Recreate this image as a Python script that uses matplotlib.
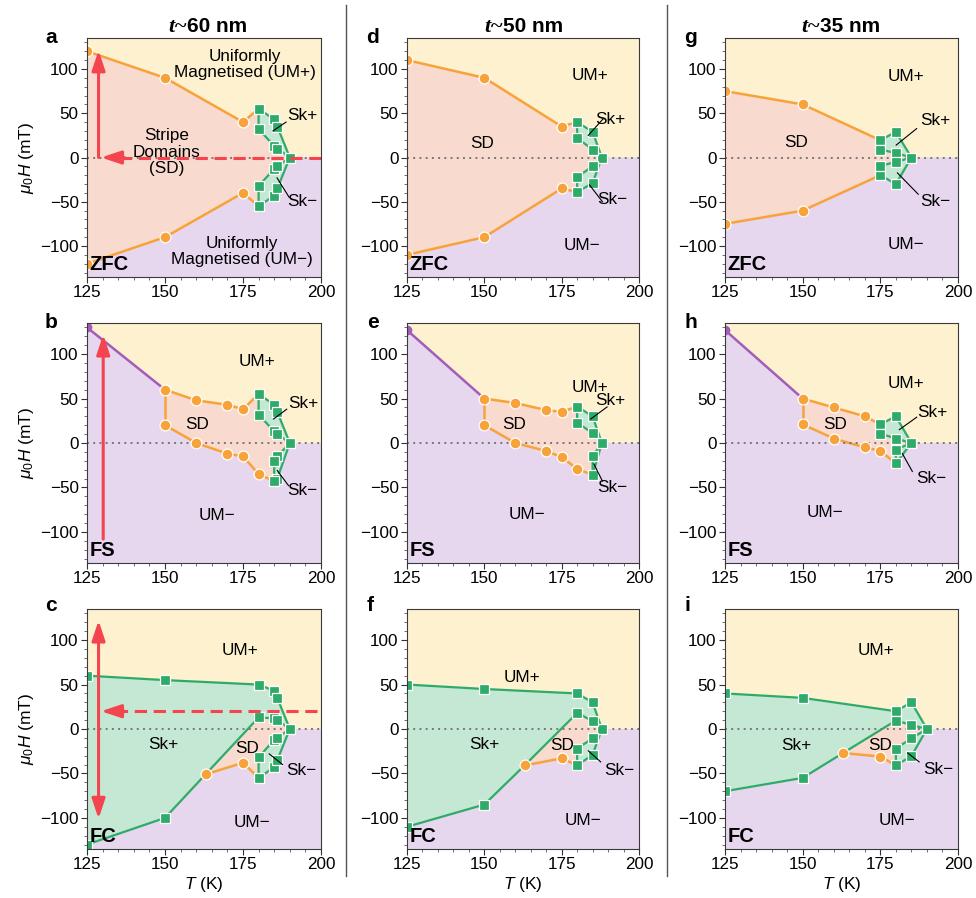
import matplotlib
matplotlib.use('Agg')
import matplotlib.pyplot as plt
from matplotlib.lines import Line2D
from matplotlib.ticker import MultipleLocator

plt.rcParams['font.family'] = ['Liberation Sans', 'DejaVu Sans']
plt.rcParams['mathtext.fontset'] = 'custom'
plt.rcParams['mathtext.rm'] = 'Liberation Sans'
plt.rcParams['mathtext.it'] = 'Liberation Sans:italic'
plt.rcParams['mathtext.bf'] = 'Liberation Sans:bold'

YEL = '#FDF1CF'; PUR = '#E6D7EF'; SAL = '#F9DACE'; GRNF = '#C4E8D3'
GRN = '#2EAB69'; ORG = '#F8A23A'; PURL = '#A25DBB'; RED = '#F4454F'

# ---------------- data: t~60 nm ----------------
a_orange_up = [(125, 120), (150, 90), (175, 40), (180, 55)]
a_orange_lo = [(125, -120), (150, -90), (175, -40), (180, -55)]
a_skp_outer = [(180, 55), (185, 43), (186, 35), (190, 0)]
a_skp_inner = [(180, 55), (180, 32), (185, 13), (186, 10), (190, 0)]
a_skm_outer = [(180, -55), (185, -43), (186, -35), (190, 0)]
a_skm_inner = [(180, -55), (180, -32), (185, -13), (186, -10), (190, 0)]
a_circles = [(125, 120), (150, 90), (175, 40), (125, -120), (150, -90), (175, -40)]

b_purple = [(125, 130), (150, 60)]
b_orange_up = [(150, 60), (160, 48), (170, 43), (175, 38), (180, 55)]
b_orange_v = [(150, 60), (150, 20)]
b_orange_lo = [(150, 20), (160, 0), (170, -12), (175, -15), (180, -35), (185, -43)]
b_skp_outer = [(180, 55), (185, 43), (186, 35), (190, 0)]
b_skp_inner = [(180, 55), (180, 32), (185, 13), (186, 10), (190, 0)]
b_skm_outer = [(190, 0), (186, -40), (185, -43)]
b_skm_inner = [(190, 0), (186, -15), (185, -20), (185, -43)]
b_circles = [(150, 60), (160, 48), (170, 43), (175, 38), (150, 20), (160, 0),
             (170, -12), (175, -15), (180, -35)]

c_skp_upper = [(125, 60), (150, 55), (180, 50), (185, 43), (186, 35), (190, 0)]
c_skp_lower = [(125, -130), (150, -100), (163, -51), (180, 13), (185, 12), (186, 10), (190, 0)]
c_orange = [(163, -51), (175, -38), (180, -55)]
c_skm_outer = [(180, -55), (185, -43), (186, -35), (190, 0)]
c_skm_inner = [(180, -55), (180, -32), (185, -12), (186, -10), (190, 0)]
c_circles = [(163, -51), (175, -38)]

# ---------------- data: t~50 nm ----------------
d_orange_up = [(125, 110), (150, 90), (175, 35), (180, 40)]
d_orange_lo = [(125, -110), (150, -90), (175, -35), (180, -39)]
d_skp_outer = [(180, 40), (185, 29), (188, 0)]
d_skp_inner = [(180, 40), (180, 22), (185, 9), (188, 0)]
d_skm_outer = [(180, -39), (185, -29), (188, 0)]
d_skm_inner = [(180, -39), (180, -22), (185, -10), (188, 0)]
d_circles = [(125, 110), (150, 90), (175, 35), (125, -110), (150, -90), (175, -35)]

e_purple = [(125, 127), (150, 50)]
e_orange_up = [(150, 50), (160, 45), (170, 37), (175, 35), (180, 41)]
e_orange_v = [(150, 50), (150, 20)]
e_orange_lo = [(150, 20), (160, 0), (170, -9), (175, -16), (180, -29), (185, -36)]
e_skp_outer = [(180, 41), (185, 30), (188, 0)]
e_skp_inner = [(180, 41), (180, 23), (185, 11), (188, 0)]
e_skm_outer = [(188, 0), (185, -36)]
e_skm_inner = [(188, 0), (185, -15), (185, -36)]
e_circles = [(150, 50), (160, 45), (170, 37), (175, 35), (150, 20), (160, 0),
             (170, -9), (175, -16), (180, -29)]

f_skp_upper = [(125, 50), (150, 45), (180, 40), (185, 30), (188, 0)]
f_skp_lower = [(125, -110), (150, -85), (163, -41), (180, 18), (185, 9), (188, 0)]
f_orange = [(163, -41), (175, -33), (180, -41)]
f_skm_outer = [(180, -41), (185, -29), (188, 0)]
f_skm_inner = [(180, -41), (180, -22), (185, -10.5), (188, 0)]
f_circles = [(163, -41), (175, -33)]

# ---------------- data: t~35 nm ----------------
g_orange_up = [(125, 75), (150, 60), (175, 19.5)]
g_orange_lo = [(125, -75), (150, -60), (175, -20)]
g_skp_outer = [(175, 19.5), (180, 29), (185, 0)]
g_skp_inner = [(175, 19.5), (175, 9), (180, 5), (185, 0)]
g_skm_outer = [(175, -20), (180, -30), (185, 0)]
g_skm_inner = [(175, -20), (175, -9.5), (180, -5), (185, 0)]
g_circles = [(125, 75), (150, 60), (125, -75), (150, -60)]

h_purple = [(125, 127), (150, 50)]
h_orange_up = [(150, 50), (160, 40), (170, 30), (175, 21)]
h_orange_v = [(150, 50), (150, 21)]
h_orange_lo = [(150, 21), (160, 5), (170, -5), (175, -9), (180, -23)]
h_skp_outer = [(175, 21), (180, 30), (185, 0)]
h_skp_inner = [(175, 21), (175, 10.5), (180, 5), (185, 0)]
h_skm_outer = [(185, 0), (180, -23)]
h_skm_inner = [(185, 0), (180, -7.5), (180, -23)]
h_circles = [(150, 50), (160, 40), (170, 30), (150, 21), (160, 5), (170, -5), (175, -9)]

i_skp_upper = [(125, 40), (150, 35), (180, 20), (185, 30), (190, 0)]
i_skp_lower = [(125, -70), (150, -55), (163, -27), (180, 9.5), (185, 4.5), (190, 0)]
i_orange = [(163, -27), (175, -31), (180, -41)]
i_skm_outer = [(180, -41), (185, -30.5), (190, 0)]
i_skm_inner = [(180, -41), (180, -22), (185, -10.5), (190, 0)]
i_circles = [(163, -27), (175, -31)]

# ---------------- texts ----------------
a_texts = [(175.5, 105, 'Uniformly\nMagnetised (UM+)'), (150.6, 6, 'Stripe\nDomains\n(SD)'),
           (174.6, -106, 'Uniformly\nMagnetised (UM\u2212)'), (194, 48, 'Sk+'), (194, -49.5, 'Sk\u2212')]
b_texts = [(179.4, 92, 'UM+'), (160.2, 21, 'SD'), (166.7, -82, 'UM\u2212'), (194.3, 45, 'Sk+'), (194, -53, 'Sk\u2212')]
c_texts = [(174, 88, 'UM+'), (149.4, -17, 'Sk+'), (176.2, -22, 'SD'), (177.8, -105, 'UM\u2212'), (193.8, -47, 'Sk\u2212')]
d_texts = [(184.2, 93, 'UM+'), (149.2, 16, 'SD'), (181.6, -99, 'UM\u2212'), (190.6, 43, 'Sk+'), (191.3, -48, 'Sk\u2212')]
e_texts = [(184.2, 63, 'UM+'), (159.6, 21, 'SD'), (163.8, -80, 'UM\u2212'), (190.6, 48, 'Sk+'), (191.3, -50, 'Sk\u2212')]
f_texts = [(162.2, 58, 'UM+'), (149.9, -17, 'Sk+'), (175, -19, 'SD'), (182, -103, 'UM\u2212'), (193.6, -47, 'Sk\u2212')]
g_texts = [(183.3, 91, 'UM+'), (147.9, 17, 'SD'), (183.3, -98, 'UM\u2212'), (192.6, 42, 'Sk+'), (192.6, -49.6, 'Sk\u2212')]
h_texts = [(183.3, 67, 'UM+'), (160.4, 21, 'SD'), (157.2, -78, 'UM\u2212'), (191.8, 34, 'Sk+'), (191.5, -40, 'Sk\u2212')]
i_texts = [(173.6, 88, 'UM+'), (147.9, -18, 'Sk+'), (174.9, -18, 'SD'), (180.4, -103, 'UM\u2212'), (193.7, -46, 'Sk\u2212')]

a_pointers = [[(188.8, 40), (184.6, 30)], [(189.8, -45), (185.9, -23)]]
b_pointers = [[(189.0, 38), (184.8, 27)], [(189.6, -48), (186.0, -31)]]
c_pointers = [[(187.7, -40), (183.4, -28)]]
d_pointers = [[(188.5, 44), (183.6, 25)], [(188.2, -50), (184.0, -31)]]
e_pointers = [[(189.7, 40.6), (184.4, 27)], [(188.2, -43), (185.4, -23.4)]]
f_pointers = [[(187.6, -37), (183.6, -24.5)]]
g_pointers = [[(186.7, 32.7), (180.1, 14)], [(187.2, -41.5), (180.5, -17.4)]]
h_pointers = [[(186.7, 29), (181.1, 15)], [(185.3, -32), (182.1, -12)]]
i_pointers = [[(187.5, -37), (183.8, -27)]]

protocols = ['ZFC', 'FS', 'FC']
letters = ['a', 'b', 'c', 'd', 'e', 'f', 'g', 'h', 'i']
thickness = ['60', '50', '35']

# ---------------- figure ----------------
fig = plt.figure(figsize=(9.76, 8.98), dpi=100)
W, H = 976.0, 898.0
col_px = [(87, 234), (407, 232), (725, 233)]
row_px = [(38, 239), (323, 240), (609, 240)]

TICK_FS = 12.3
TEXT_FS = 12.3


def pts_xy(pts):
    return [p[0] for p in pts], [p[1] for p in pts]


def fill(ax, pts, color, z):
    xs, ys = pts_xy(pts)
    ax.fill(xs, ys, color=color, lw=0, zorder=z)


def line(ax, pts, color, lw=1.8, z=4):
    xs, ys = pts_xy(pts)
    ax.plot(xs, ys, color=color, lw=lw, zorder=z, solid_capstyle='round', solid_joinstyle='round')


def squares(ax, lists, circles):
    seen = []
    for L in lists:
        for p in L:
            if p not in seen and p not in circles:
                seen.append(p)
    xs, ys = pts_xy(seen)
    ax.plot(xs, ys, 's', ms=7.4, mfc=GRN, mec='white', mew=0.9, ls='none', zorder=7)


def circ(ax, circles):
    xs, ys = pts_xy(circles)
    ax.plot(xs, ys, 'o', ms=7.8, mfc=ORG, mec='white', mew=0.9, ls='none', zorder=6)


def setup(ax, r, c):
    ax.set_xlim(125, 200)
    ax.set_ylim(-135, 135)
    ax.set_facecolor(YEL)
    ax.set_xticks([125, 150, 175, 200])
    ax.set_yticks([-100, -50, 0, 50, 100])
    ax.xaxis.set_minor_locator(MultipleLocator(5))
    ax.yaxis.set_minor_locator(MultipleLocator(10))
    ax.tick_params(which='major', direction='out', length=4, width=0.8, labelsize=TICK_FS, colors='#333333',
                   labelcolor='black', pad=2)
    ax.tick_params(which='minor', direction='out', length=2, width=0.6, colors='#555555')
    for s in ax.spines.values():
        s.set_color('#3a3a3a')
        s.set_linewidth(0.8)
        s.set_zorder(10)
    ax.axhline(0, color='#777777', ls=(0, (1, 2.2)), lw=1.4, zorder=5)
    if c == 0:
        ax.set_ylabel(r'$\mu_0H$ (mT)', fontsize=12.5, labelpad=3)
    if r == 2:
        ax.set_xlabel(r'$T$ (K)', fontsize=12.5, labelpad=2)
    ax.text(0.012, 0.012, protocols[r], transform=ax.transAxes, ha='left', va='bottom',
            fontsize=14.5, fontweight='bold', zorder=12)


def texts(ax, tl, pl):
    for (x, y, s) in tl:
        ax.text(x, y, s, ha='center', va='center', fontsize=TEXT_FS, zorder=11, linespacing=1.1)
    for p in pl:
        xs, ys = pts_xy(p)
        ax.plot(xs, ys, color='black', lw=0.8, zorder=9)


def zfc_panel(ax, up, lo, po, pi, mo, mi, circles):
    boundary = up + po[1:] + [(200, 0)]
    fill(ax, [(125, -140)] + boundary + [(200, -140)], PUR, 1)
    fill(ax, up + pi[1:] + mi[::-1][1:] + lo[::-1][1:], SAL, 2)
    fill(ax, po + pi[::-1], GRNF, 3)
    fill(ax, mo + mi[::-1], GRNF, 3)
    line(ax, up, ORG); line(ax, lo, ORG)
    for L in (po, pi, mo, mi):
        line(ax, L, GRN, lw=1.6)
    circ(ax, circles)
    squares(ax, [po, pi, mo, mi], circles)


def fs_panel(ax, pl, up, v, lo, po, pi, mo, mi, circles):
    boundary = pl + up[1:] + po[1:] + [(200, 0)]
    fill(ax, [(125, -140)] + boundary + [(200, -140)], PUR, 1)
    fill(ax, up + pi[1:] + mi[1:] + lo[::-1][1:], SAL, 2)
    fill(ax, po + pi[::-1], GRNF, 3)
    fill(ax, mo + mi[::-1], GRNF, 3)
    line(ax, pl, PURL)
    ax.plot([pl[0][0]], [pl[0][1]], 'o', ms=6, color=PURL, zorder=6)
    line(ax, up, ORG); line(ax, v, ORG); line(ax, lo, ORG)
    for L in (po, pi, mo, mi):
        line(ax, L, GRN, lw=1.6)
    circ(ax, circles)
    squares(ax, [po, pi, mo, mi], circles)


def fc_panel(ax, upper, lower, orange, mo, mi, circles):
    fill(ax, [(125, -140), (125, 0), (200, 0), (200, -140)], PUR, 1)
    fill(ax, upper + lower[::-1][1:], GRNF, 2)
    fill(ax, orange + mi[1:] + lower[3:-1][::-1], SAL, 3)
    fill(ax, mo + mi[::-1], GRNF, 3)
    line(ax, upper, GRN, lw=1.6); line(ax, lower, GRN, lw=1.6)
    line(ax, orange, ORG)
    line(ax, mo, GRN, lw=1.6); line(ax, mi, GRN, lw=1.6)
    circ(ax, circles)
    squares(ax, [upper, lower, mo, mi], circles)


axes = {}
for c in range(3):
    for r in range(3):
        l, w = col_px[c]
        t, h = row_px[r]
        ax = fig.add_axes([l / W, 1 - (t + h) / H, w / W, h / H])
        setup(ax, r, c)
        axes[(r, c)] = ax

zfc_panel(axes[(0, 0)], a_orange_up, a_orange_lo, a_skp_outer, a_skp_inner, a_skm_outer, a_skm_inner, a_circles)
zfc_panel(axes[(0, 1)], d_orange_up, d_orange_lo, d_skp_outer, d_skp_inner, d_skm_outer, d_skm_inner, d_circles)
zfc_panel(axes[(0, 2)], g_orange_up, g_orange_lo, g_skp_outer, g_skp_inner, g_skm_outer, g_skm_inner, g_circles)
fs_panel(axes[(1, 0)], b_purple, b_orange_up, b_orange_v, b_orange_lo, b_skp_outer, b_skp_inner, b_skm_outer, b_skm_inner, b_circles)
fs_panel(axes[(1, 1)], e_purple, e_orange_up, e_orange_v, e_orange_lo, e_skp_outer, e_skp_inner, e_skm_outer, e_skm_inner, e_circles)
fs_panel(axes[(1, 2)], h_purple, h_orange_up, h_orange_v, h_orange_lo, h_skp_outer, h_skp_inner, h_skm_outer, h_skm_inner, h_circles)
fc_panel(axes[(2, 0)], c_skp_upper, c_skp_lower, c_orange, c_skm_outer, c_skm_inner, c_circles)
fc_panel(axes[(2, 1)], f_skp_upper, f_skp_lower, f_orange, f_skm_outer, f_skm_inner, f_circles)
fc_panel(axes[(2, 2)], i_skp_upper, i_skp_lower, i_orange, i_skm_outer, i_skm_inner, i_circles)

for (r, c), tl, pl in [((0, 0), a_texts, a_pointers), ((1, 0), b_texts, b_pointers), ((2, 0), c_texts, c_pointers),
                       ((0, 1), d_texts, d_pointers), ((1, 1), e_texts, e_pointers), ((2, 1), f_texts, f_pointers),
                       ((0, 2), g_texts, g_pointers), ((1, 2), h_texts, h_pointers), ((2, 2), i_texts, i_pointers)]:
    texts(axes[(r, c)], tl, pl)

# red arrows (measurement protocols)
head = dict(arrowstyle='-|>,head_length=0.6,head_width=0.2', color=RED, lw=2.2, mutation_scale=20,
            shrinkA=0, shrinkB=0)
axa = axes[(0, 0)]
axa.annotate('', xy=(128.7, 121), xytext=(128.7, 0), arrowprops=head, zorder=8)
axa.plot([200, 133], [0, 0], color=RED, lw=2.2, ls=(0, (4, 2.2)), zorder=8)
axa.annotate('', xy=(129.5, 0), xytext=(137, 0), arrowprops=head, zorder=8)

axb = axes[(1, 0)]
axb.annotate('', xy=(130.2, 122), xytext=(130.2, -108), arrowprops=head, zorder=8)

axc = axes[(2, 0)]
dbl = dict(head); dbl['arrowstyle'] = '<|-|>,head_length=0.6,head_width=0.2'
axc.annotate('', xy=(128.7, 122), xytext=(128.7, -101), arrowprops=dbl, zorder=8)
axc.plot([198.6, 133], [20, 20], color=RED, lw=2.2, ls=(0, (4, 2.2)), zorder=8)
axc.annotate('', xy=(129.5, 20), xytext=(137, 20), arrowprops=head, zorder=8)

# panel letters
letter_px = [(45, 43), (45, 328), (45, 611), (366, 43), (367, 328), (367, 611), (684, 43), (685, 328), (685, 611)]
for s, (x, y) in zip(letters, letter_px):
    fig.text(x / W, 1 - y / H, s, fontsize=15, fontweight='bold', ha='left', va='baseline')

# column titles: serif bold-italic "t~" followed by sans bold thickness
title_px = [187, 503, 820]
for th, x in zip(thickness, title_px):
    fig.text(x / W, 1 - 31.5 / H, 't~', fontsize=16, fontweight='bold', fontstyle='italic',
             family='Liberation Serif', ha='right', va='baseline')
    fig.text(x / W, 1 - 31.5 / H, th + ' nm', fontsize=15, fontweight='bold', ha='left', va='baseline')

# column separators
for x in (346, 667):
    fig.add_artist(Line2D([x / W, x / W], [1 - 5 / H, 1 - 876 / H], color='#555555', lw=1.0))

fig.savefig('out.png', dpi=100)
